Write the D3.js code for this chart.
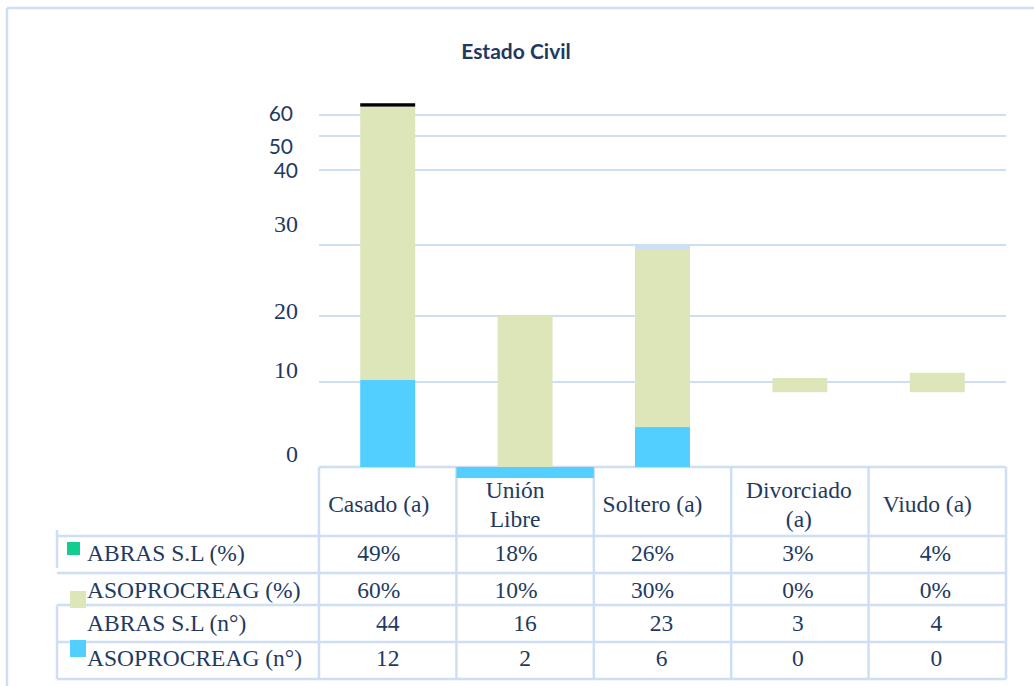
<!DOCTYPE html>
<html>
<head>
<meta charset="utf-8">
<script src="https://cdn.jsdelivr.net/npm/d3@7"></script>
<style>
  body { margin: 0; background: #fff; }
  svg { display: block; }
</style>
</head>
<body>
<svg id="chart" width="1034" height="686"></svg>
<script>
// ---- data ----
const title = "Estado Civil";
const categories = ["Casado (a)", "Unión Libre", "Soltero (a)", "Divorciado (a)", "Viudo (a)"];
const headerLines = [["Casado (a)"], ["Unión", "Libre"], ["Soltero (a)"], ["Divorciado", "(a)"], ["Viudo (a)"]];
const yTicks = [0, 10, 20, 30, 40, 50, 60];
const rowLabels = ["ABRAS S.L (%)", "ASOPROCREAG (%)", "ABRAS S.L (n°)", "ASOPROCREAG (n°)"];
const abrasPct = [49, 18, 26, 3, 4];
const asoPct = [60, 10, 30, 0, 0];
const abrasNum = [44, 16, 23, 3, 4];
const asoNum = [12, 2, 6, 0, 0];

// column segments in axis units: [from, to]
const blueSeg = [[0, 10.3], [0, -1.3], [0, 4.7], [0, 0], [0, 0]];
const greenSeg = [[10.3, 64], [0, 20.1], [4.7, 29.3], [8.8, 10.6], [8.8, 11.4]];
const darkCap = [[64, 65.6], null, null, null, null];
const paleCap = [null, null, [29.3, 30], null, null];

// ---- styles ----
const C = {
  grid: "#cfdff3",
  text: "#1f3a62",
  green: "#dce6b9",
  blue: "#52cfff",
  teal: "#12cc92",
  black: "#000000"
};
const serif = "'Liberation Serif', 'Times New Roman', serif";
const sans = "Lato, 'Open Sans', sans-serif";

const svg = d3.select("#chart");

// outer frame
svg.append("line").attr("x1", 7).attr("x2", 1034).attr("y1", 8).attr("y2", 8)
  .attr("stroke", C.grid).attr("stroke-width", 2.5);
svg.append("line").attr("x1", 7).attr("x2", 7).attr("y1", 8).attr("y2", 686)
  .attr("stroke", C.grid).attr("stroke-width", 2.5);

// title
svg.append("text").attr("x", 516).attr("y", 59).attr("text-anchor", "middle")
  .attr("font-family", sans).attr("font-weight", 700).attr("font-size", 21)
  .attr("fill", C.text).text(title);

// ---- scales ----
const x = d3.scaleBand().domain(categories).range([319, 1006]).padding(0);
const y = d3.scaleLinear().domain(yTicks).range([467, 382, 316, 245, 170, 136, 115]);
const yLabel = d3.scaleLinear().domain(yTicks).range([462, 378, 319, 232, 178, 154, 121]);
const barW = x.bandwidth() * 0.4;

// gridlines
svg.append("g").selectAll("line").data(yTicks.filter(d => d > 0)).join("line")
  .attr("x1", 319).attr("x2", 1006)
  .attr("y1", d => y(d)).attr("y2", d => y(d))
  .attr("stroke", C.grid).attr("stroke-width", 2);

// tick labels (upper ones sans, lower ones serif)
svg.append("g").selectAll("text").data(yTicks).join("text")
  .attr("x", d => d >= 50 ? 293 : 298)
  .attr("y", d => yLabel(d))
  .attr("text-anchor", "end")
  .attr("font-family", d => d >= 40 ? sans : serif)
  .attr("font-size", d => d >= 40 ? 21 : 24)
  .attr("fill", C.text)
  .text(d => d);

// ---- table grid ----
const rowY = [467, 536, 573, 605, 642, 679];
const tbl = svg.append("g").attr("stroke", C.grid).attr("stroke-width", 2.5);
// top of data columns (axis baseline)
tbl.append("line").attr("x1", 319).attr("x2", 1006).attr("y1", 467).attr("y2", 467);
// row separators
rowY.slice(1).forEach(ry => {
  tbl.append("line").attr("x1", 57).attr("x2", 1006).attr("y1", ry).attr("y2", ry);
});
// column separators
const colX = categories.map(c => x(c)).concat([x.range()[1]]);
colX.forEach(cx => {
  tbl.append("line").attr("x1", cx).attr("x2", cx).attr("y1", 467).attr("y2", 679);
});
// left edge of the label column
tbl.append("line").attr("x1", 57).attr("x2", 57).attr("y1", 530).attr("y2", 568);
tbl.append("line").attr("x1", 57).attr("x2", 57).attr("y1", 605).attr("y2", 679);

// ---- columns ----
function drawSeg(arr, fill, full) {
  svg.append("g").selectAll("rect")
    .data(arr.map((s, i) => ({ s, c: categories[i] })).filter(d => d.s && d.s[0] !== d.s[1]))
    .join("rect")
    .attr("x", d => (full && d.s[1] < 0) ? x(d.c) : x(d.c) + (x.bandwidth() - barW) / 2)
    .attr("width", d => (full && d.s[1] < 0) ? x.bandwidth() : barW)
    .attr("y", d => Math.min(y(d.s[0]), y(d.s[1])))
    .attr("height", d => Math.abs(y(d.s[0]) - y(d.s[1])))
    .attr("fill", fill);
}
drawSeg(blueSeg, C.blue, true);
drawSeg(greenSeg, C.green, false);
drawSeg(darkCap, C.black, false);
drawSeg(paleCap, C.grid, false);

// ---- table text ----
const fs = 23.5;
const headerShift = [-9, -10, -10, -1, -10];
const pctShift = [-9, -9, -10, -2, -2];
const numShift = [0, 0, -1, -2, -1];
const cx = c => x(c) + x.bandwidth() / 2;

const head = svg.append("g").attr("font-family", serif).attr("font-size", fs)
  .attr("fill", C.text).attr("text-anchor", "middle");
headerLines.forEach((lines, i) => {
  const base = lines.length === 1 ? [512] : [497.5, 526.5];
  lines.forEach((t, k) => {
    head.append("text").attr("x", cx(categories[i]) + headerShift[i]).attr("y", base[k]).text(t);
  });
});

const rows = [
  { vals: abrasPct, fmt: d => d + "%", shift: pctShift, base: 561 },
  { vals: asoPct, fmt: d => d + "%", shift: pctShift, base: 597.5 },
  { vals: abrasNum, fmt: d => String(d), shift: numShift, base: 630.5 },
  { vals: asoNum, fmt: d => String(d), shift: numShift, base: 666 }
];
const body = svg.append("g").attr("font-family", serif).attr("font-size", fs).attr("fill", C.text);
rows.forEach((r, ri) => {
  body.append("text").attr("x", 87).attr("y", r.base).text(rowLabels[ri]);
  r.vals.forEach((v, i) => {
    body.append("text").attr("x", cx(categories[i]) + r.shift[i]).attr("y", r.base)
      .attr("text-anchor", "middle").text(r.fmt(v));
  });
});

// legend keys beside the row labels
const keys = [
  { row: 0, color: C.teal, x: 67, y: 542, w: 13, h: 13 },
  { row: 1, color: C.green, x: 70, y: 591, w: 16, h: 17 },
  { row: 3, color: C.blue, x: 70, y: 640, w: 16, h: 17 }
];
svg.append("g").selectAll("rect").data(keys).join("rect")
  .attr("x", d => d.x).attr("y", d => d.y).attr("width", d => d.w).attr("height", d => d.h)
  .attr("fill", d => d.color);
</script>
</body>
</html>
